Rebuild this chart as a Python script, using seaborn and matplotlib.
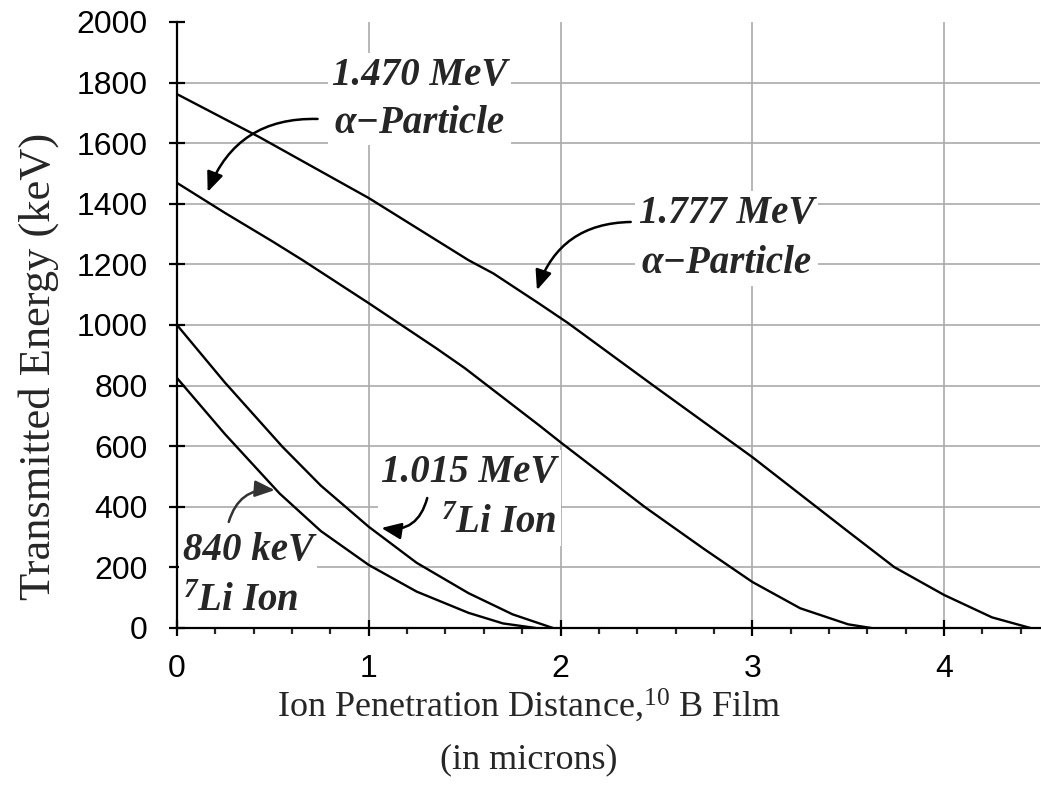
import matplotlib
matplotlib.use("Agg")
import matplotlib.pyplot as plt
import seaborn as sns
import pandas as pd
from matplotlib.ticker import MultipleLocator

# ---- data ----
x_a1777 = [0, 0.43, 1.0, 1.52, 1.65, 1.89, 2.04, 2.48, 3.0, 3.5, 3.74, 4.0, 4.25, 4.45]
e_a1777 = [1762, 1620, 1419, 1214, 1170, 1070, 1006, 802, 564, 318, 201, 109, 35, 0]
x_a1470 = [0, 0.25, 0.5, 0.655, 1.0, 1.35, 1.5, 1.89, 2.0, 2.44, 2.75, 3.0, 3.25, 3.5, 3.62]
e_a1470 = [1469, 1370, 1275, 1214, 1072, 924, 858, 668, 613, 399, 260, 152, 65, 12, 0]
x_li1015 = [0, 0.25, 0.55, 0.75, 1.0, 1.25, 1.52, 1.75, 1.96]
e_li1015 = [1000, 810, 598, 470, 334, 215, 115, 45, 0]
x_li840 = [0, 0.25, 0.535, 0.75, 1.0, 1.25, 1.52, 1.7, 1.87]
e_li840 = [825, 640, 444, 320, 208, 120, 50, 15, 0]

series_names = ["1.777 MeV alpha", "1.470 MeV alpha", "1.015 MeV Li", "840 keV Li"]
x_ticks = [0, 1, 2, 3, 4]
y_ticks = [0, 200, 400, 600, 800, 1000, 1200, 1400, 1600, 1800, 2000]

frames = []
for name, xs, es in zip(series_names,
                        [x_a1777, x_a1470, x_li1015, x_li840],
                        [e_a1777, e_a1470, e_li1015, e_li840]):
    frames.append(pd.DataFrame({"x": xs, "E": es, "series": name}))
df = pd.concat(frames, ignore_index=True)

sns.set_style("ticks")
plt.rcParams["font.family"] = ["Liberation Sans", "DejaVu Sans"]
plt.rcParams["mathtext.fontset"] = "custom"
plt.rcParams["mathtext.rm"] = "Liberation Serif"
plt.rcParams["mathtext.it"] = "Liberation Serif:italic"
plt.rcParams["mathtext.bf"] = "Liberation Serif:bold"
plt.rcParams["mathtext.bfit"] = "Liberation Serif:italic:bold"

fig = plt.figure(figsize=(10.41, 7.94), dpi=100)
ax = fig.add_axes([0.170, 0.2091, 0.829, 0.7632])

sns.lineplot(data=df, x="x", y="E", hue="series", units="series", estimator=None,
             sort=False, palette=["black"] * 4, linewidth=1.7, legend=False, ax=ax,
             zorder=6.5)

ax.set_xlim(0, 4.5)
ax.set_ylim(0, 2000)
ax.set_xticks(x_ticks)
ax.set_yticks(y_ticks)
ax.xaxis.set_minor_locator(MultipleLocator(0.2))
ax.grid(True, which="major", color="#aaaaaa", linewidth=1.2, zorder=0)
ax.set_axisbelow(True)
ax.yaxis.get_gridlines()[-1].set_visible(False)
ax.yaxis.get_gridlines()[0].set_visible(False)
ax.xaxis.get_gridlines()[0].set_visible(False)

for s in ["top", "right"]:
    ax.spines[s].set_visible(False)
for s in ["left", "bottom"]:
    ax.spines[s].set_linewidth(1.6)
    ax.spines[s].set_color("black")

ax.tick_params(axis="both", which="major", direction="inout", length=11, width=1.6,
               labelsize=23, colors="black")
ax.tick_params(axis="y", which="major", pad=15.5)
ax.tick_params(axis="x", which="major", pad=13)
ax.tick_params(axis="x", which="minor", direction="out", length=4, width=1.6)

ax.set_xlabel("Ion Penetration Distance,$^{\\mathrm{10}}$ B Film\n(in microns)",
              family="Liberation Serif", fontsize=26, linespacing=1.75)
ax.set_ylabel("Transmitted Energy (keV)", family="Liberation Serif", fontsize=32)
ax.xaxis.set_label_coords(0.408, -0.097)
ax.yaxis.set_label_coords(-0.137, 0.432)

tprops = dict(family="Liberation Serif", fontsize=28, fontweight="bold",
              fontstyle="italic", zorder=5)
box = dict(boxstyle="square,pad=0.1", facecolor="white", edgecolor="none")

ax.text(1.264, 1745, "1.470 MeV\n\u03b1\u2212Particle", ha="center", va="center",
        multialignment="center", linespacing=1.38, bbox=box, **tprops)
ax.text(2.865, 1285, "1.777 MeV\n\u03b1\u2212Particle", ha="center", va="center",
        multialignment="center", linespacing=1.45, bbox=box, **tprops)
ax.text(1.98, 428, "1.015 MeV\n$^{\\mathbfit{7}}$Li Ion", ha="right", va="center",
        multialignment="right", linespacing=1.5, bbox=box, **tprops)
ax.text(0.03, 170, "840 keV\n$^{\\mathbfit{7}}$Li Ion", ha="left", va="center",
        multialignment="left", linespacing=1.5, bbox=box, **tprops)

def arrow(tail, head, rad, color="black"):
    ax.annotate("", xy=head, xytext=tail,
                arrowprops=dict(arrowstyle="-|>,head_length=0.6,head_width=0.25",
                                connectionstyle=f"arc3,rad={rad}", color=color,
                                lw=1.8, mutation_scale=20, shrinkA=0, shrinkB=0),
                zorder=7)

arrow((0.733, 1680), (0.16, 1439), 0.35)
arrow((2.366, 1340), (1.877, 1115), 0.35)
arrow((1.305, 429), (1.066, 330), -0.45)
arrow((0.27, 350), (0.51, 455), -0.4, color="#333333")

fig.savefig("out.png", dpi=100)
